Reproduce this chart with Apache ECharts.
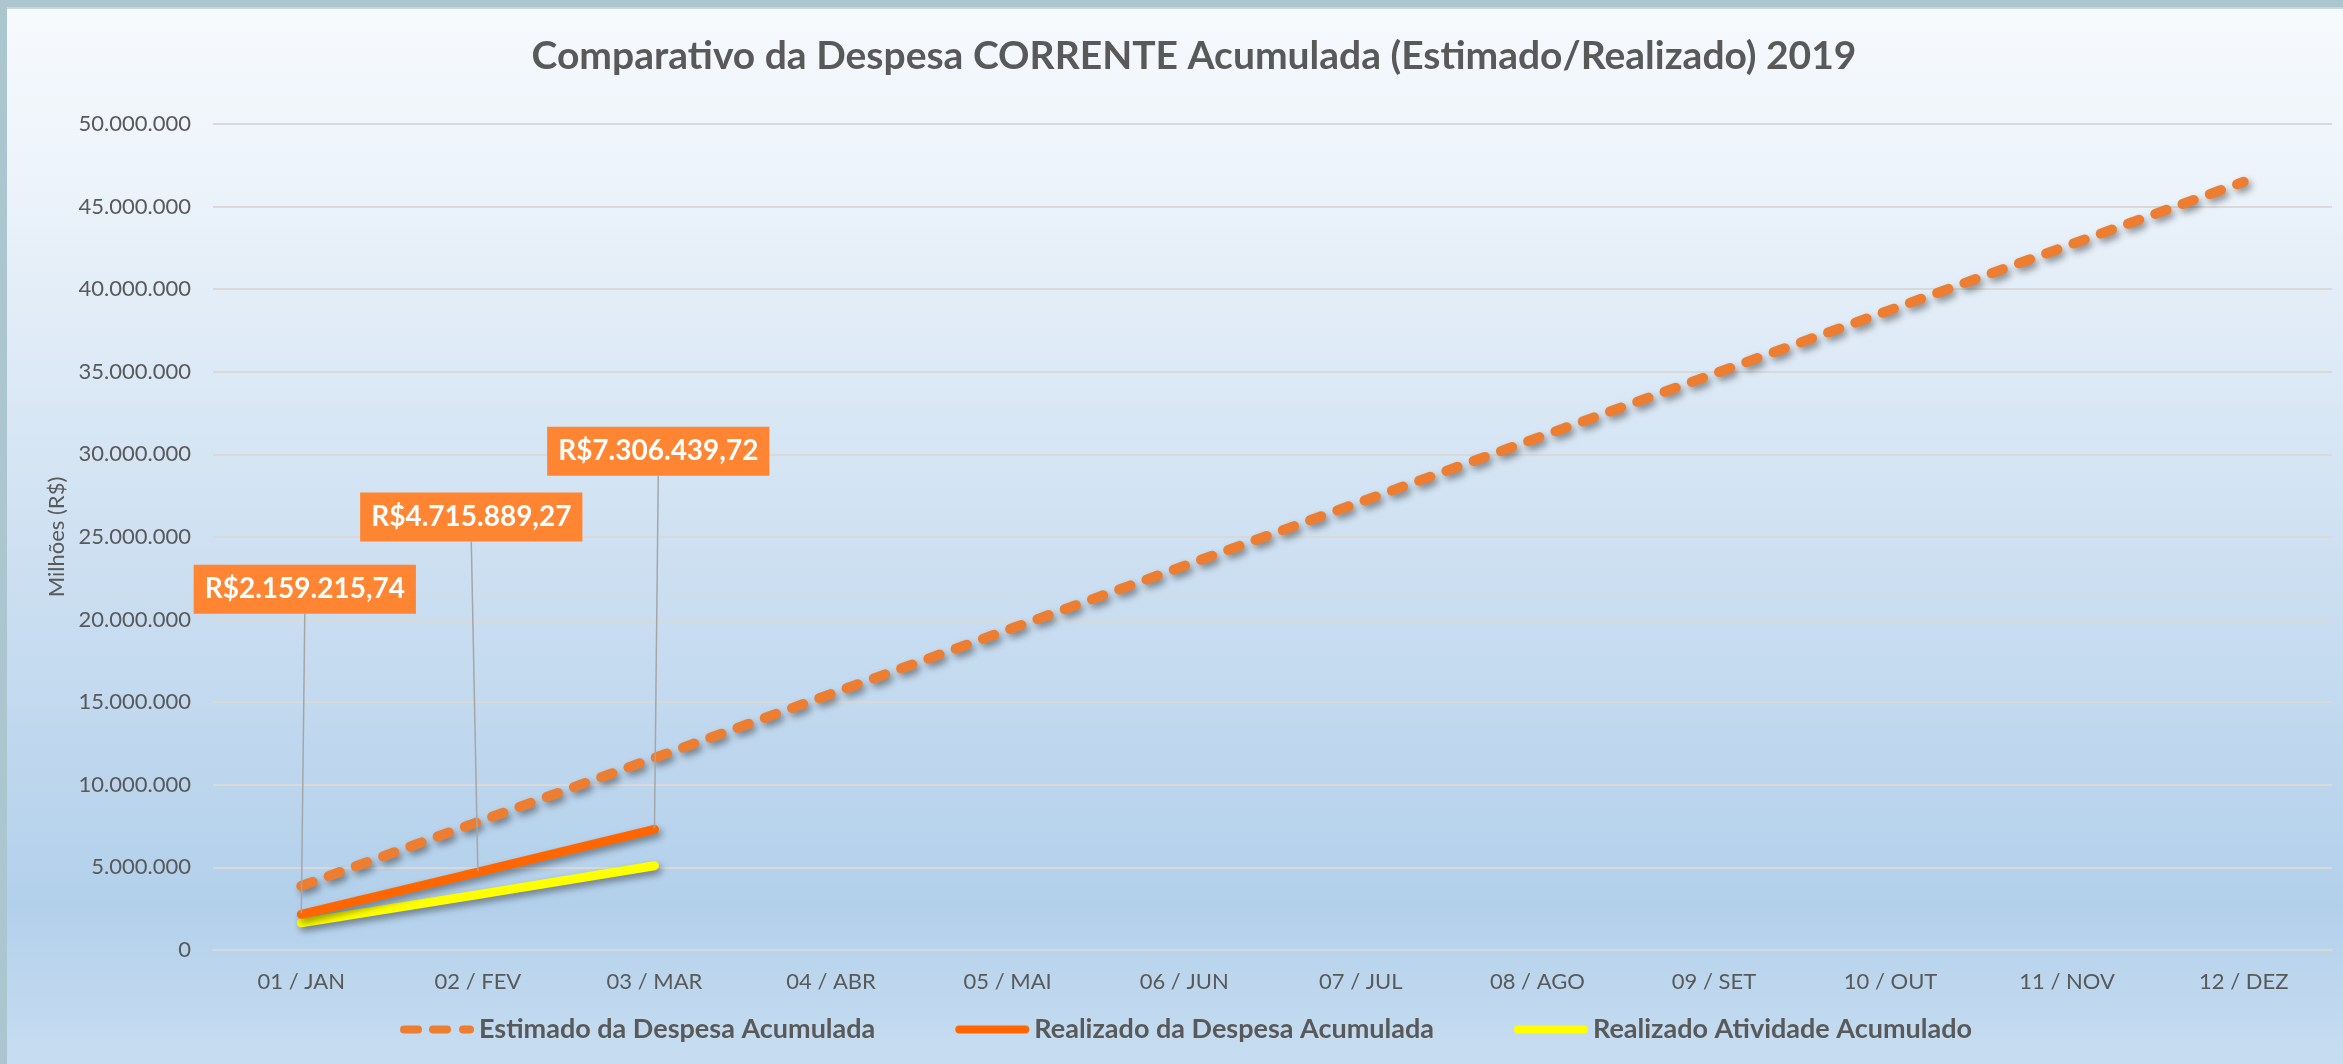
<!DOCTYPE html>
<html>
<head>
<meta charset="utf-8">
<script src="https://cdn.jsdelivr.net/npm/echarts@6/dist/echarts.min.js"></script>
<style>
html,body{margin:0;padding:0;width:2343px;height:1064px;overflow:hidden;background:#fff;}
#chart{width:2343px;height:1064px;}
</style>
</head>
<body>
<div id="chart"></div>
<script>
// ---- data ----
var categories = ['01 / JAN','02 / FEV','03 / MAR','04 / ABR','05 / MAI','06 / JUN','07 / JUL','08 / AGO','09 / SET','10 / OUT','11 / NOV','12 / DEZ'];
var estimado = [3875000, 7750000, 11625000, 15500000, 19375000, 23250000, 27125000, 31000000, 34875000, 38750000, 42625000, 46500000];
var realizadoDespesa = [2159215.74, 4715889.27, 7306439.72, null, null, null, null, null, null, null, null, null];
var realizadoAtividade = [1650000, 3350000, 5100000, null, null, null, null, null, null, null, null, null];
var seriesNames = ['Estimado da Despesa Acumulada', 'Realizado da Despesa Acumulada', 'Realizado Atividade Acumulado'];
var yTicks = {min: 0, max: 50000000, interval: 5000000};

function thousands(n){ return String(n).replace(/\B(?=(\d{3})+(?!\d))/g, '.'); }
function money(v){
  var cents = Math.round(v * 100);
  var ip = Math.floor(cents / 100), dp = cents % 100;
  return 'R$' + thousands(ip) + ',' + (dp < 10 ? '0' + dp : dp);
}
function pill(x0, x1){
  return 'M' + (x0 + 4) + ' 0L' + (x1 - 4) + ' 0A4 4 0 0 1 ' + (x1 - 4) + ' 8L' + (x0 + 4) + ' 8A4 4 0 0 1 ' + (x0 + 4) + ' 0Z';
}
var dashedIcon = 'path://' + pill(0, 22) + pill(29, 51) + pill(59, 74);
var solidIcon = 'path://' + pill(0, 74);

var chart = echarts.init(document.getElementById('chart'), null, {renderer: 'canvas'});
var shadow = {shadowColor: 'rgba(0,0,0,0.40)', shadowBlur: 7, shadowOffsetX: 3, shadowOffsetY: 4};
var labelOffsets = [[3.5, -325], [-6.6, -355], [3.8, -378]];

var option = {
  animation: false,
  backgroundColor: {
    type: 'linear', x: 0, y: 0, x2: 0, y2: 1,
    colorStops: [
      {offset: 0, color: '#F7FAFD'},
      {offset: 0.15, color: '#EEF4FB'},
      {offset: 0.5, color: '#CFE1F2'},
      {offset: 0.85, color: '#B3D0EB'},
      {offset: 1, color: '#C7DDF1'}
    ]
  },
  graphic: [
    {type: 'rect', shape: {x: 0, y: 0, width: 2343, height: 7}, style: {fill: '#ABC6CE'}, z: 100},
    {type: 'rect', shape: {x: 0, y: 7, width: 2343, height: 2}, style: {fill: '#CBD5D8'}, z: 100},
    {type: 'rect', shape: {x: 0, y: 0, width: 7, height: 1064}, style: {fill: '#ABC6CE'}, z: 100}
  ],
  title: {
    text: 'Comparativo da Despesa CORRENTE Acumulada (Estimado/Realizado) 2019',
    left: 1189, top: 32, textAlign: 'center',
    textStyle: {fontFamily: 'Lato', fontWeight: 'bold', fontSize: 39, color: '#595959'}
  },
  legend: {
    left: 395, top: 1011,
    itemWidth: 74, itemHeight: 8, itemGap: 80,
    textStyle: {fontFamily: 'Lato', fontWeight: 'bold', fontSize: 27, color: '#595959', padding: [0, 0, 0, 0]},
    data: [
      {name: seriesNames[0], icon: dashedIcon, itemStyle: {color: '#ED7D31'}},
      {name: seriesNames[1], icon: solidIcon, itemStyle: {color: '#FF6600'}},
      {name: seriesNames[2], icon: solidIcon, itemStyle: {color: '#FFFF00'}}
    ]
  },
  grid: {left: 213, right: 11, top: 124, bottom: 114},
  xAxis: {
    type: 'category', data: categories, boundaryGap: true,
    axisLine: {show: true, lineStyle: {color: '#D9D9D9', width: 2}},
    axisTick: {show: false},
    axisLabel: {fontFamily: 'Lato', fontSize: 22, color: '#595959', margin: 21}
  },
  yAxis: {
    type: 'value', min: yTicks.min, max: yTicks.max, interval: yTicks.interval,
    name: 'Milhões (R$)', nameLocation: 'middle', nameGap: 139, nameRotate: 90,
    nameTextStyle: {fontFamily: 'Lato', fontSize: 22, color: '#595959'},
    axisLine: {show: false}, axisTick: {show: false},
    splitLine: {lineStyle: {color: '#D9D9D9', width: 2}},
    axisLabel: {fontFamily: 'Lato', fontSize: 22, color: '#595959', margin: 22,
      formatter: function(v){ return thousands(v); }}
  },
  series: [
    {
      name: seriesNames[0], type: 'line', data: estimado,
      showSymbol: false, symbol: 'none',
      lineStyle: Object.assign({color: '#ED7D31', width: 10, type: [12, 17], cap: 'round'}, shadow),
      itemStyle: {color: '#ED7D31'},
      z: 3
    },
    {
      name: seriesNames[1], type: 'line', data: realizadoDespesa,
      symbol: 'circle', symbolSize: 2, showSymbol: true,
      lineStyle: Object.assign({color: '#FF6600', width: 9, cap: 'round'}, shadow),
      itemStyle: {color: '#FF6600'},
      label: {
        show: true, position: 'inside',
        formatter: function(p){ return money(p.value); },
        fontFamily: 'Lato', fontWeight: 'bold', fontSize: 28, color: '#FFFFFF',
        backgroundColor: '#FF8533', padding: [11, 11, 10, 11]
      },
      labelLayout: function(p){
        var o = labelOffsets[p.dataIndex] || [0, 0];
        return {dx: o[0], dy: o[1]};
      },
      labelLine: {show: true, lineStyle: {color: '#A6A6A6', width: 1.5}},
      emphasis: {disabled: true},
      z: 4
    },
    {
      name: seriesNames[2], type: 'line', data: realizadoAtividade,
      showSymbol: false, symbol: 'none',
      lineStyle: Object.assign({color: '#FFFF00', width: 9, cap: 'round'}, shadow),
      itemStyle: {color: '#FFFF00'},
      z: 3
    }
  ]
};
chart.setOption(option);
</script>
</body>
</html>
